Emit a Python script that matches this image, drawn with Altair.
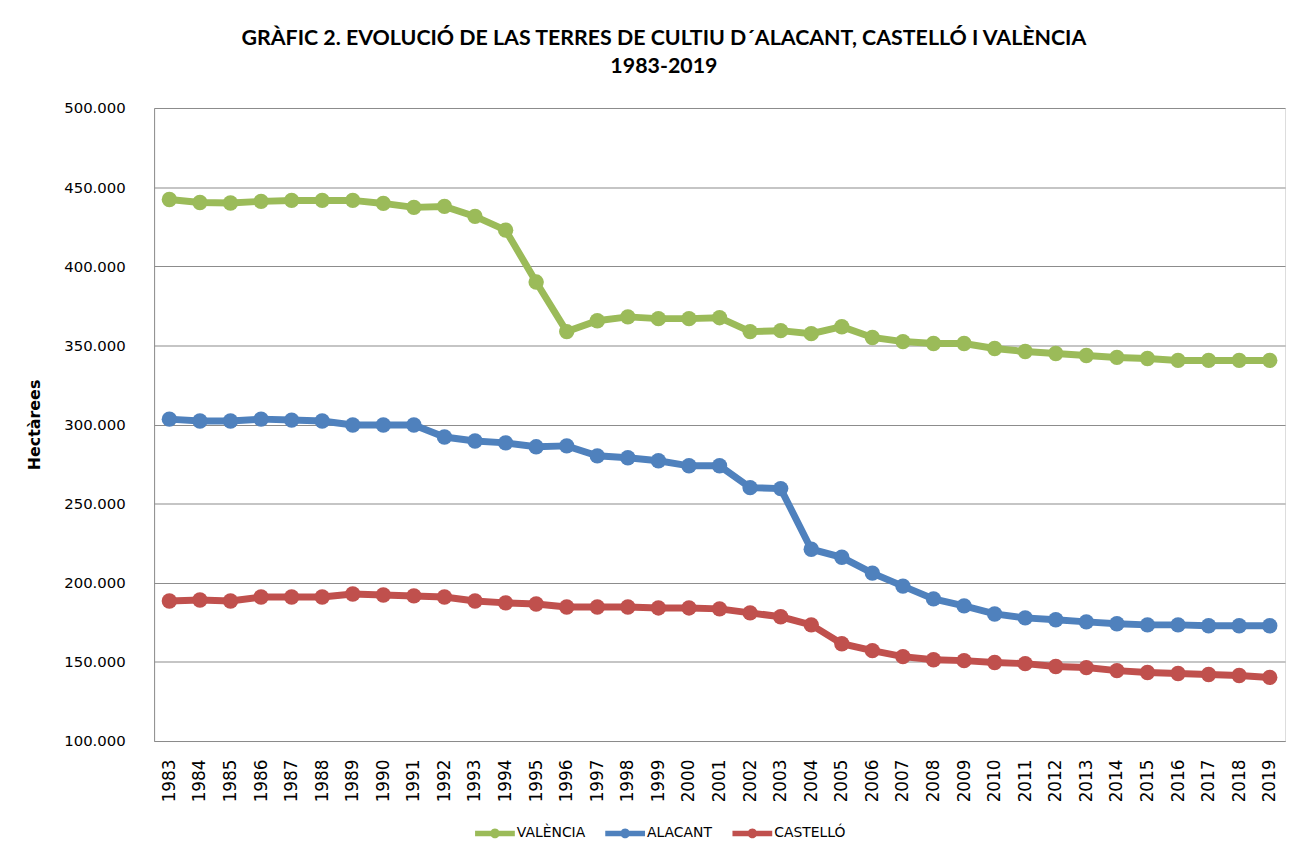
import altair as alt
import pandas as pd

years = list(range(1983, 2020))

valencia = [442200, 440300, 440000, 441000, 441600, 441600, 441600, 439700, 437200, 437800,
            431500, 422800, 390000, 358700, 365600, 368000, 366900, 366900, 367500, 358700,
            359300, 357400, 361800, 355000, 352400, 351200, 351200, 348000, 346100, 344900,
            343600, 342400, 341700, 340500, 340500, 340500, 340500]

alacant = [303400, 302200, 302200, 303400, 302800, 302200, 299700, 299700, 299700, 292100,
           289600, 288400, 285900, 286500, 280200, 279000, 277100, 273900, 273900, 260100,
           259500, 221200, 216100, 206100, 197900, 189800, 185400, 180300, 177800, 176600,
           175300, 174100, 173400, 173400, 172800, 172800, 172800]

castello = [188500, 189100, 188500, 191000, 191000, 191000, 192900, 192300, 191700, 191000,
            188500, 187300, 186600, 184700, 184700, 184700, 184100, 184100, 183500, 181000,
            178500, 173400, 161500, 157100, 153300, 151400, 150800, 149600, 148900, 147100,
            146400, 144500, 143300, 142700, 142000, 141400, 140200]

series_names = ["VALÈNCIA", "ALACANT", "CASTELLÓ"]
series_colors = ["#9BBB59", "#4F81BD", "#C0504D"]

rows = []
for name, vals in zip(series_names, [valencia, alacant, castello]):
    for y, v in zip(years, vals):
        rows.append({"Any": str(y), "Serie": name, "Hectàrees": v})
df = pd.DataFrame(rows)

legend_symbol = ("M-1,-0.14 L-0.2,-0.14 A0.244,0.244 0 0,1 0.2,-0.14 L1,-0.14 L1,0.14 "
                 "L0.2,0.14 A0.244,0.244 0 0,1 -0.2,0.14 L-1,0.14 Z")

legend = alt.Legend(
    title=None, orient="none", direction="horizontal", legendX=323, legendY=710,
    symbolType=legend_symbol, symbolSize=1600, symbolStrokeWidth=0, symbolOpacity=1,
    labelFont="DejaVu Sans", labelFontSize=14, labelColor="#000000", labelOffset=2,
    columnPadding=20,
)

color = alt.Color(
    "Serie:N",
    scale=alt.Scale(domain=series_names, range=series_colors),
    sort=series_names,
    legend=legend,
)

x = alt.X(
    "Any:O",
    scale=alt.Scale(type="point", padding=0.5),
    axis=alt.Axis(
        title=None, labelAngle=-90, labelAlign="right", labelBaseline="middle",
        labelFont="DejaVu Sans", labelFontSize=17, labelColor="#000000",
        labelPadding=18, ticks=False, domainColor="#8c8c8c", grid=False,
    ),
)
y = alt.Y(
    "Hectàrees:Q",
    scale=alt.Scale(domain=[100000, 500000], nice=False, zero=False),
    axis=alt.Axis(
        title="Hectàrees", titleFont="DejaVu Sans", titleFontSize=16, titleFontWeight="bold",
        titleColor="#000000", titlePadding=21,
        values=[100000, 150000, 200000, 250000, 300000, 350000, 400000, 450000, 500000],
        labelExpr="replace(format(datum.value, ',d'), ',', '.')",
        labelFont="DejaVu Sans", labelFontSize=15, labelColor="#000000", labelPadding=29,
        ticks=False, domainColor="#8c8c8c", gridColor="#8c8c8c", gridWidth=1.2,
    ),
)

base = alt.Chart(df).encode(x=x, y=y, color=color)
lines = base.mark_line(strokeWidth=7)
points = base.mark_point(filled=True, size=240, opacity=1)

chart = alt.layer(lines, points).properties(
    width=1138,
    height=637,
    padding={"left": 147, "top": 98, "right": 3, "bottom": 100},
    autosize=alt.AutoSizeParams(type="none"),
    title=alt.Title(
        text=["GRÀFIC 2. EVOLUCIÓ DE LAS TERRES DE  CULTIU D´ALACANT, CASTELLÓ I VALÈNCIA", "1983-2019"],
        font="Lato", fontSize=21.5, fontWeight="bold", color="#000000",
        anchor="middle", dx=-56, offset=24, lineHeight=28,
    ),
).configure_view(stroke=None).configure(background="white")

chart.save("out.html", embed_options={"renderer": "svg", "actions": False})
